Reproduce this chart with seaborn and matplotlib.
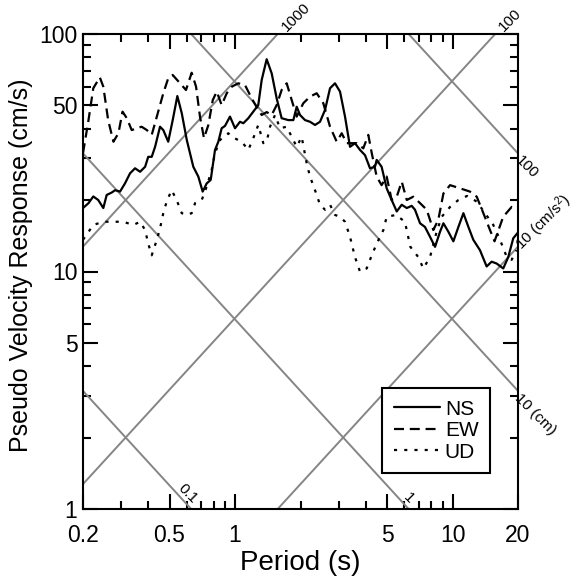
import numpy as np
import pandas as pd
import matplotlib
matplotlib.use("Agg")
import matplotlib.pyplot as plt
from matplotlib.ticker import FixedLocator, FixedFormatter, NullFormatter
from matplotlib.lines import Line2D
import seaborn as sns

# ---------------- data ----------------
ns_period = [0.200, 0.212, 0.223, 0.235, 0.248, 0.257, 0.271, 0.281, 0.296, 0.312,
             0.329, 0.347, 0.366, 0.386, 0.399, 0.414, 0.429, 0.452, 0.468, 0.493,
             0.517, 0.543, 0.569, 0.600, 0.643, 0.678, 0.710, 0.741, 0.773, 0.809,
             0.838, 0.868, 0.899, 0.948, 1.000, 1.054, 1.092, 1.151, 1.213, 1.279,
             1.326, 1.398, 1.474, 1.554, 1.638, 1.758, 1.854, 1.921, 1.990, 2.098,
             2.212, 2.332, 2.459, 2.593, 2.734, 2.882, 3.039, 3.204, 3.378, 3.561,
             3.755, 3.959, 4.174, 4.40, 4.48, 4.72, 4.98, 5.25, 5.54, 5.84,
             6.16, 6.49, 6.72, 7.09, 7.47, 7.88, 8.31, 8.76, 9.08, 9.57,
             10.09, 10.64, 11.22, 11.83, 12.46, 13.37, 14.35, 15.13, 15.96, 17.11,
             18.04, 19.02, 20.0]
ns_psv = [18.5, 19.4, 20.7, 20.0, 18.5, 21.0, 21.5, 22.0, 21.7, 23.5,
          25.9, 27.2, 26.3, 27.6, 30.4, 30.4, 33.5, 40.7, 39.4, 35.2,
          43.4, 54.8, 46.4, 35.8, 27.6, 25.1, 21.7, 23.5, 24.3, 32.5,
          35.2, 40.1, 41.0, 44.9, 40.1, 42.7, 42.1, 44.2, 47.1, 50.2,
          64.0, 78.3, 68.3, 53.6, 44.2, 43.4, 43.4, 49.4, 45.6, 43.4,
          42.7, 41.4, 42.7, 47.9, 59.1, 62.0, 57.2, 44.9, 33.5, 34.7,
          32.5, 30.9, 27.2, 27.6, 29.5, 27.6, 22.4, 20.0, 17.9, 19.1,
          18.5, 18.9, 18.2, 15.96, 15.4, 14.0, 12.7, 14.7, 15.96, 14.7,
          13.4, 15.4, 17.6, 15.4, 13.6, 12.3, 10.5, 11.0, 10.8, 10.3,
          11.5, 13.8, 14.6]

ew_period = [0.200, 0.212, 0.223, 0.239, 0.248, 0.261, 0.276, 0.291, 0.304, 0.318,
             0.335, 0.353, 0.372, 0.393, 0.414, 0.437, 0.468, 0.493, 0.517, 0.559,
             0.595, 0.632, 0.662, 0.690, 0.720, 0.754, 0.790, 0.824, 0.868, 0.916,
             0.966, 1.035, 1.111, 1.193, 1.254, 1.326, 1.398, 1.474, 1.554, 1.638,
             1.728, 1.822, 1.921, 2.060, 2.212, 2.374, 2.546, 2.734, 2.934, 3.094,
             3.262, 3.626, 3.888, 4.100, 4.252, 4.48, 4.72, 4.98, 5.25, 5.54,
             5.84, 6.16, 6.60, 7.09, 7.61, 8.16, 8.60, 9.08, 9.74, 10.82,
             12.03, 12.92, 13.86, 14.87, 15.6, 17.1, 18.7, 20.0]
ew_psv = [31.5, 43.4, 59.1, 65.7, 60.0, 43.4, 35.2, 38.2, 47.1, 44.2,
          39.4, 40.1, 40.7, 39.4, 37.6, 44.9, 56.3, 65.1, 67.2, 62.0,
          58.1, 68.7, 60.0, 44.9, 36.4, 41.4, 52.7, 57.2, 50.2, 56.3,
          60.0, 62.0, 61.0, 53.6, 49.4, 45.6, 46.9, 45.6, 50.2, 58.1,
          62.0, 52.7, 44.9, 51.1, 54.5, 56.3, 51.1, 40.7, 35.2, 38.2,
          34.7, 34.7, 33.0, 37.6, 31.5, 25.1, 23.1, 25.1, 20.0, 20.65,
          23.9, 20.0, 20.65, 19.4, 18.2, 14.95, 16.5, 21.3, 23.1, 22.4,
          21.7, 20.65, 17.6, 14.95, 13.4, 17.0, 18.7, 18.2]

ud_period = [0.200, 0.223, 0.248, 0.276, 0.306, 0.341, 0.366, 0.386, 0.399, 0.414,
             0.437, 0.452, 0.468, 0.485, 0.511, 0.539, 0.569, 0.600, 0.632, 0.655,
             0.703, 0.741, 0.781, 0.809, 0.853, 0.931, 0.966, 1.073, 1.151, 1.213,
             1.279, 1.349, 1.398, 1.448, 1.527, 1.610, 1.728, 1.822, 1.921, 2.025,
             2.136, 2.212, 2.332, 2.459, 2.593, 2.734, 2.882, 3.039, 3.204, 3.378,
             3.561, 3.755, 4.03, 4.252, 4.48, 4.81, 4.98, 5.50, 6.04, 6.40,
             6.96, 7.34, 7.88, 8.45, 8.92, 9.74, 10.64, 11.66, 12.92, 14.10,
             15.40, 16.53, 17.76, 18.7, 19.7]
ud_psv = [13.6, 15.7, 16.2, 16.2, 16.2, 15.7, 16.2, 14.95, 13.1, 11.7,
          13.6, 15.2, 17.6, 19.7, 22.0, 20.0, 17.6, 17.3, 17.6, 19.4,
          20.0, 22.8, 26.8, 31.5, 35.8, 38.2, 36.9, 35.2, 32.5, 36.4,
          41.4, 34.7, 35.2, 40.7, 45.6, 40.1, 40.7, 36.9, 33.5, 36.9,
          28.5, 25.1, 22.0, 19.1, 18.2, 19.1, 17.3, 17.0, 16.2, 14.0,
          11.5, 9.98, 10.3, 11.7, 13.1, 14.95, 17.0, 17.3, 16.2, 12.7,
          11.5, 10.3, 11.5, 14.7, 17.0, 18.7, 20.0, 20.8, 19.7, 17.6,
          15.7, 13.6, 11.5, 11.2, 12.3]

series_names = ["NS", "EW", "UD"]

x_tick_values = [0.2, 0.5, 1, 5, 10, 20]
x_tick_labels = ["0.2", "0.5", "1", "5", "10", "20"]
x_minor_values = [0.3, 0.4, 0.6, 0.7, 0.8, 0.9, 2, 3, 4, 6, 7, 8, 9]
y_tick_values = [1, 5, 10, 50, 100]
y_tick_labels = ["1", "5", "10", "50", "100"]
y_minor_values = [2, 3, 4, 6, 7, 8, 9, 20, 30, 40, 60, 70, 80, 90]

# tripartite guide lines
disp_values = [0.1, 1, 10, 100]          # cm
disp_labels = ["0.1", "1", "10 (cm)", "100"]
acc_values = [10, 100, 1000]             # cm/s^2
acc_labels = ["10 (cm/s$^2$)", "100", "1000"]
acc_scale = 0.4                          # as drawn on the reference grid

# ---------------- figure ----------------
sns.set_theme(style="ticks")
plt.rcParams["font.family"] = ["Liberation Sans", "DejaVu Sans"]
plt.rcParams.update({"text.color": "black", "axes.labelcolor": "black",
                     "xtick.color": "black", "ytick.color": "black",
                     "axes.edgecolor": "black",
                     "mathtext.fontset": "custom",
                     "mathtext.rm": "Liberation Sans",
                     "mathtext.it": "Liberation Sans",
                     "mathtext.default": "regular"})

fig = plt.figure(figsize=(5.85, 5.81), dpi=100)
ax = fig.add_axes([83 / 585, 72 / 581, 435 / 585, 475 / 581])
ax.set_xscale("log")
ax.set_yscale("log")
ax.set_xlim(0.2, 20)
ax.set_ylim(1, 100)

grid_col = "#858585"
tgrid = np.geomspace(0.2, 20, 200)
for d in disp_values:
    ax.plot(tgrid, 2 * np.pi * d / tgrid, color=grid_col, lw=1.4, zorder=1)
for a in acc_values:
    ax.plot(tgrid, acc_scale * a * tgrid / (2 * np.pi), color=grid_col, lw=1.4, zorder=1)

df = pd.concat([
    pd.DataFrame({"Period": ns_period, "PSV": ns_psv, "comp": "NS"}),
    pd.DataFrame({"Period": ew_period, "PSV": ew_psv, "comp": "EW"}),
    pd.DataFrame({"Period": ud_period, "PSV": ud_psv, "comp": "UD"}),
])
styles = {"NS": "-", "EW": (0, (4.5, 2.6)), "UD": (0, (1.4, 3.2))}
for name in series_names:
    sub = df[df["comp"] == name]
    sns.lineplot(data=sub, x="Period", y="PSV", ax=ax, color="black", lw=1.6,
                 linestyle=styles[name], sort=False, estimator=None, zorder=3)

# guide line labels
lab_kw = dict(fontsize=11, color="black", rotation_mode="anchor",
              textcoords="offset points", annotation_clip=False)
for a, lab in zip(acc_values, acc_labels):
    t_top = 100 * 2 * np.pi / (acc_scale * a)
    if t_top <= 20:
        ax.annotate(lab, xy=(t_top, 100), xytext=(8, 0), rotation=45,
                    ha="left", va="bottom", **lab_kw)
    else:
        sv_r = acc_scale * a * 20 / (2 * np.pi)
        ax.annotate(lab, xy=(20, sv_r), xytext=(3, -3), rotation=45,
                    ha="left", va="baseline", **lab_kw)
for d, lab in zip(disp_values, disp_labels):
    t_bot = 2 * np.pi * d / 1.0
    if t_bot <= 20 and d < 10:
        ax.annotate(lab, xy=(t_bot, 1), xytext=(-1, 2), rotation=-45,
                    ha="right", va="bottom", **lab_kw)
    else:
        sv_r = 2 * np.pi * d / 20
        ax.annotate(lab, xy=(20, sv_r), xytext=(3, 0), rotation=-45,
                    ha="left", va="top", **lab_kw)

# axes styling
ax.xaxis.set_major_locator(FixedLocator(x_tick_values))
ax.xaxis.set_major_formatter(FixedFormatter(x_tick_labels))
ax.xaxis.set_minor_locator(FixedLocator(x_minor_values))
ax.xaxis.set_minor_formatter(NullFormatter())
ax.yaxis.set_major_locator(FixedLocator(y_tick_values))
ax.yaxis.set_major_formatter(FixedFormatter(y_tick_labels))
ax.yaxis.set_minor_locator(FixedLocator(y_minor_values))
ax.yaxis.set_minor_formatter(NullFormatter())

ax.tick_params(which="both", direction="in", top=True, right=True, color="black",
               width=1.5, labelcolor="black")
ax.tick_params(which="major", length=10.5, labelsize=16.5, pad=4)
ax.tick_params(axis="x", which="major", pad=11)
ax.tick_params(which="minor", length=5.5)
for s in ax.spines.values():
    s.set_linewidth(1.5)
    s.set_color("black")
    s.set_visible(True)

ax.set_xlabel("Period (s)", fontsize=20, labelpad=2, color="black")
ax.set_ylabel("Pseudo Velocity Response (cm/s)", fontsize=18, labelpad=6, color="black")
ax.yaxis.set_label_coords(-0.115, (509 - 265) / 475)

handles = [Line2D([], [], color="black", lw=1.6, linestyle=styles[n]) for n in series_names]
leg = ax.legend(handles, series_names, loc="lower right",
                bbox_to_anchor=((490 - 83) / 435, (509 - 473) / 475),
                borderaxespad=0, fontsize=15, frameon=True, fancybox=False,
                edgecolor="black", handlelength=2.2, labelspacing=0.12,
                handletextpad=0.25, borderpad=0.55)
leg.get_frame().set_linewidth(1.5)
leg.get_frame().set_alpha(1)
for t in leg.get_texts():
    t.set_color("black")

fig.savefig("out.png", dpi=100, facecolor="white")
